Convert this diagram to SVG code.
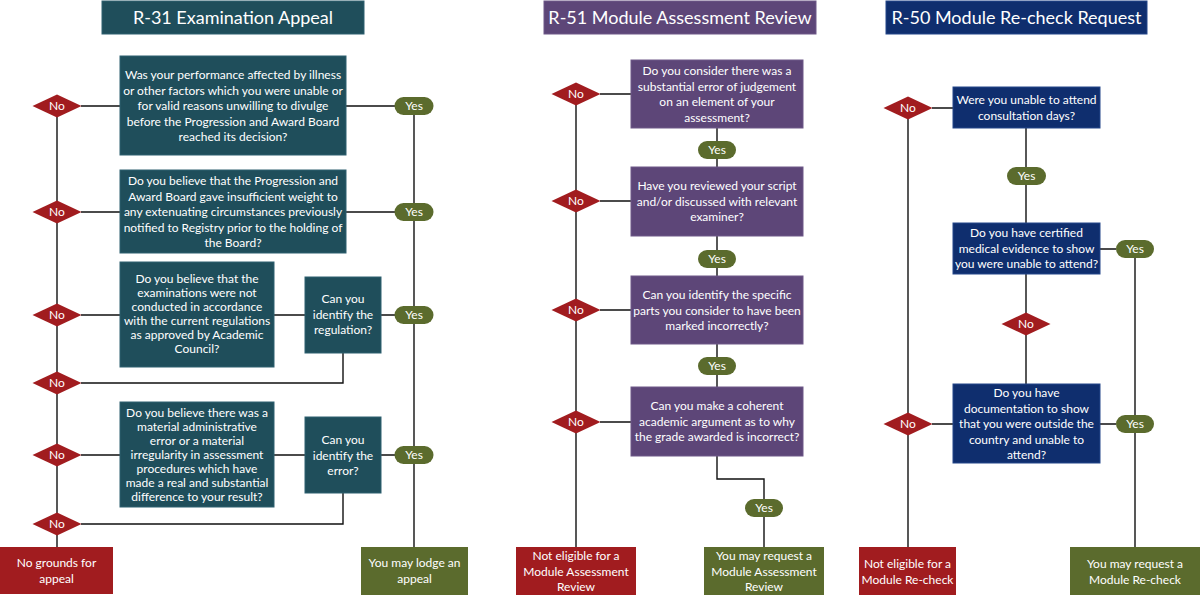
<svg xmlns="http://www.w3.org/2000/svg" width="1200" height="601" viewBox="0 0 1200 601">
<defs>
<style>
.bg{fill:#ffffff}
.teal{fill:#1f4e5b;stroke:#2f6070;stroke-width:1}
.purple{fill:#5d4678;stroke:#6e5888;stroke-width:1}
.navy{fill:#0f2e6e;stroke:#24478a;stroke-width:1}
.red{fill:#a11c1f}
.green{fill:#5b6b2d}
.edge{fill:none;stroke:#111111;stroke-width:1.4}
text{font-family:Lato,"Liberation Sans",sans-serif;fill:#ffffff;text-anchor:middle}
.t{font-size:18px}
.q{font-size:12px}
.l{font-size:12px}
</style>
</defs>
<rect class="bg" x="0" y="0" width="1200" height="601"/>

<g id="connectors">
<!-- R-31 -->
<path class="edge" d="M57,106 V547"/>
<path class="edge" d="M414,106 V547"/>
<path class="edge" d="M81,106 H120 M346,106 H395"/>
<path class="edge" d="M81,212 H120 M346,212 H395"/>
<path class="edge" d="M81,315 H120 M274,315 H305 M381,315 H395"/>
<path class="edge" d="M81,383 H343 V353"/>
<path class="edge" d="M81,455 H120 M274,455 H305 M381,455 H395"/>
<path class="edge" d="M81,524 H343 V493"/>
<!-- R-51 -->
<path class="edge" d="M576,94 V547"/>
<path class="edge" d="M600,94 H631 M600,201 H631 M600,310 H631 M600,422 H631"/>
<path class="edge" d="M717,128 V167 M717,236 V276 M717,344 V387"/>
<path class="edge" d="M717,456 V479 H764 V547"/>
<!-- R-50 -->
<path class="edge" d="M908,108 V547"/>
<path class="edge" d="M932,108 H953 M932,424 H953"/>
<path class="edge" d="M1026,128 V223 M1026,274 V384"/>
<path class="edge" d="M1100,249 H1116 M1100,424 H1116"/>
<path class="edge" d="M1135,249 V547"/>
</g>

<!-- ===== R-31 ===== -->
<g id="title-r31"><rect class="teal" x="102" y="1" width="262" height="33"/><text class="t" x="233" y="24">R-31 Examination Appeal</text></g>

<g id="r31-q1"><rect class="teal" x="120" y="56" width="226" height="99"/>
<text class="q" x="233"><tspan x="233" y="79">Was your performance affected by illness</tspan><tspan x="233" y="94.5">or other factors which you were unable or</tspan><tspan x="233" y="110">for valid reasons unwilling to divulge</tspan><tspan x="233" y="125.5">before the Progression and Award Board</tspan><tspan x="233" y="141">reached its decision?</tspan></text></g>

<g id="r31-q2"><rect class="teal" x="120" y="170" width="226" height="83"/>
<text class="q" x="233"><tspan x="233" y="185">Do you believe that the Progression and</tspan><tspan x="233" y="200.5">Award Board gave insufficient weight to</tspan><tspan x="233" y="216">any extenuating circumstances previously</tspan><tspan x="233" y="231.5">notified to Registry prior to the holding of</tspan><tspan x="233" y="247">the Board?</tspan></text></g>

<g id="r31-q3"><rect class="teal" x="120" y="262" width="154" height="105"/>
<text class="q" x="197"><tspan x="197" y="283">Do you believe that the</tspan><tspan x="197" y="297">examinations were not</tspan><tspan x="197" y="311">conducted in accordance</tspan><tspan x="197" y="325">with the current regulations</tspan><tspan x="197" y="339">as approved by Academic</tspan><tspan x="197" y="353">Council?</tspan></text></g>

<g id="r31-reg"><rect class="teal" x="305" y="277" width="76" height="76"/>
<text class="q" x="343"><tspan x="343" y="303">Can you</tspan><tspan x="343" y="318.5">identify the</tspan><tspan x="343" y="334">regulation?</tspan></text></g>

<g id="r31-q4"><rect class="teal" x="120" y="402" width="154" height="105"/>
<text class="q" x="197"><tspan x="197" y="417">Do you believe there was a</tspan><tspan x="197" y="431">material administrative</tspan><tspan x="197" y="445">error or a material</tspan><tspan x="197" y="459">irregularity in assessment</tspan><tspan x="197" y="473">procedures which have</tspan><tspan x="197" y="487">made a real and substantial</tspan><tspan x="197" y="501">difference to your result?</tspan></text></g>

<g id="r31-err"><rect class="teal" x="305" y="417" width="76" height="76"/>
<text class="q" x="343"><tspan x="343" y="444">Can you</tspan><tspan x="343" y="459.5">identify the</tspan><tspan x="343" y="475">error?</tspan></text></g>

<g id="r31-no1"><path class="red" d="M32.5,106 L57,94.5 L81.5,106 L57,117.5 Z"/><text class="l" x="57" y="110.2">No</text></g>
<g id="r31-no2"><path class="red" d="M32.5,212 L57,200.5 L81.5,212 L57,223.5 Z"/><text class="l" x="57" y="216.2">No</text></g>
<g id="r31-no3"><path class="red" d="M32.5,315 L57,303.5 L81.5,315 L57,326.5 Z"/><text class="l" x="57" y="319.2">No</text></g>
<g id="r31-no4"><path class="red" d="M32.5,383 L57,371.5 L81.5,383 L57,394.5 Z"/><text class="l" x="57" y="387.2">No</text></g>
<g id="r31-no5"><path class="red" d="M32.5,455 L57,443.5 L81.5,455 L57,466.5 Z"/><text class="l" x="57" y="459.2">No</text></g>
<g id="r31-no6"><path class="red" d="M32.5,524 L57,512.5 L81.5,524 L57,535.5 Z"/><text class="l" x="57" y="528.2">No</text></g>

<g id="r31-yes1"><rect class="green" x="394.5" y="97" width="39" height="18" rx="9"/><text class="l" x="414" y="110.2">Yes</text></g>
<g id="r31-yes2"><rect class="green" x="394.5" y="203" width="39" height="18" rx="9"/><text class="l" x="414" y="216.2">Yes</text></g>
<g id="r31-yes3"><rect class="green" x="394.5" y="306" width="39" height="18" rx="9"/><text class="l" x="414" y="319.2">Yes</text></g>
<g id="r31-yes4"><rect class="green" x="394.5" y="446" width="39" height="18" rx="9"/><text class="l" x="414" y="459.2">Yes</text></g>

<g id="r31-nogrounds"><rect class="red" x="0" y="547" width="113" height="47"/>
<text class="q" x="56.5"><tspan x="56.5" y="567">No grounds for</tspan><tspan x="56.5" y="583">appeal</tspan></text></g>
<g id="r31-lodge"><rect class="green" x="361" y="547" width="107" height="48"/>
<text class="q" x="414.5"><tspan x="414.5" y="567">You may lodge an</tspan><tspan x="414.5" y="583">appeal</tspan></text></g>

<!-- ===== R-51 ===== -->
<g id="title-r51"><rect class="purple" x="544" y="1" width="272" height="33"/><text class="t" x="680" y="24">R-51 Module Assessment Review</text></g>

<g id="r51-q1"><rect class="purple" x="631" y="60" width="172" height="68"/>
<text class="q" x="717"><tspan x="717" y="75">Do you consider there was a</tspan><tspan x="717" y="90.5">substantial error of judgement</tspan><tspan x="717" y="106">on an element of your</tspan><tspan x="717" y="121.5">assessment?</tspan></text></g>
<g id="r51-q2"><rect class="purple" x="631" y="167" width="172" height="69"/>
<text class="q" x="717"><tspan x="717" y="190">Have you reviewed your script</tspan><tspan x="717" y="205.5">and/or discussed with relevant</tspan><tspan x="717" y="221">examiner?</tspan></text></g>
<g id="r51-q3"><rect class="purple" x="631" y="276" width="172" height="68"/>
<text class="q" x="717"><tspan x="717" y="299">Can you identify the specific</tspan><tspan x="717" y="314.5">parts you consider to have been</tspan><tspan x="717" y="330">marked incorrectly?</tspan></text></g>
<g id="r51-q4"><rect class="purple" x="631" y="387" width="172" height="69"/>
<text class="q" x="717"><tspan x="717" y="410">Can you make a coherent</tspan><tspan x="717" y="425.5">academic argument as to why</tspan><tspan x="717" y="441">the grade awarded is incorrect?</tspan></text></g>

<g id="r51-no1"><path class="red" d="M551.5,94 L576,82.5 L600.5,94 L576,105.5 Z"/><text class="l" x="576" y="98.2">No</text></g>
<g id="r51-no2"><path class="red" d="M551.5,201 L576,189.5 L600.5,201 L576,212.5 Z"/><text class="l" x="576" y="205.2">No</text></g>
<g id="r51-no3"><path class="red" d="M551.5,310 L576,298.5 L600.5,310 L576,321.5 Z"/><text class="l" x="576" y="314.2">No</text></g>
<g id="r51-no4"><path class="red" d="M551.5,422 L576,410.5 L600.5,422 L576,433.5 Z"/><text class="l" x="576" y="426.2">No</text></g>

<g id="r51-yes1"><rect class="green" x="698" y="141" width="38" height="18" rx="9"/><text class="l" x="717" y="154.2">Yes</text></g>
<g id="r51-yes2"><rect class="green" x="698" y="250" width="38" height="18" rx="9"/><text class="l" x="717" y="263.2">Yes</text></g>
<g id="r51-yes3"><rect class="green" x="698" y="357" width="38" height="18" rx="9"/><text class="l" x="717" y="370.2">Yes</text></g>
<g id="r51-yes4"><rect class="green" x="745" y="499" width="38" height="18" rx="9"/><text class="l" x="764" y="512.2">Yes</text></g>

<g id="r51-noteligible"><rect class="red" x="516" y="547" width="120" height="48"/>
<text class="q" x="576"><tspan x="576" y="560">Not eligible for a</tspan><tspan x="576" y="575.5">Module Assessment</tspan><tspan x="576" y="591">Review</tspan></text></g>
<g id="r51-request"><rect class="green" x="704" y="547" width="120" height="48"/>
<text class="q" x="764"><tspan x="764" y="560">You may request a</tspan><tspan x="764" y="575.5">Module Assessment</tspan><tspan x="764" y="591">Review</tspan></text></g>

<!-- ===== R-50 ===== -->
<g id="title-r50"><rect class="navy" x="886" y="1" width="261" height="33"/><text class="t" x="1016.5" y="24">R-50 Module Re-check Request</text></g>

<g id="r50-q1"><rect class="navy" x="953" y="87" width="147" height="41"/>
<text class="q" x="1026.5"><tspan x="1026.5" y="104">Were you unable to attend</tspan><tspan x="1026.5" y="119.5">consultation days?</tspan></text></g>
<g id="r50-q2"><rect class="navy" x="953" y="223" width="147" height="51"/>
<text class="q" x="1026.5"><tspan x="1026.5" y="237">Do you have certified</tspan><tspan x="1026.5" y="252.5">medical evidence to show</tspan><tspan x="1026.5" y="268">you were unable to attend?</tspan></text></g>
<g id="r50-q3"><rect class="navy" x="953" y="384" width="147" height="79"/>
<text class="q" x="1026.5"><tspan x="1026.5" y="397">Do you have</tspan><tspan x="1026.5" y="412.5">documentation to show</tspan><tspan x="1026.5" y="428">that you were outside the</tspan><tspan x="1026.5" y="443.5">country and unable to</tspan><tspan x="1026.5" y="459">attend?</tspan></text></g>

<g id="r50-no1"><path class="red" d="M883.5,108 L908,96.5 L932.5,108 L908,119.5 Z"/><text class="l" x="908" y="112.2">No</text></g>
<g id="r50-no2"><path class="red" d="M1001.5,324 L1026,312.5 L1050.5,324 L1026,335.5 Z"/><text class="l" x="1026" y="328.2">No</text></g>
<g id="r50-no3"><path class="red" d="M883.5,424 L908,412.5 L932.5,424 L908,435.5 Z"/><text class="l" x="908" y="428.2">No</text></g>

<g id="r50-yes1"><rect class="green" x="1007" y="167" width="39" height="18" rx="9"/><text class="l" x="1026.5" y="180.2">Yes</text></g>
<g id="r50-yes2"><rect class="green" x="1116" y="240" width="38" height="18" rx="9"/><text class="l" x="1135" y="253.2">Yes</text></g>
<g id="r50-yes3"><rect class="green" x="1116" y="415" width="38" height="18" rx="9"/><text class="l" x="1135" y="428.2">Yes</text></g>

<g id="r50-noteligible"><rect class="red" x="859" y="547" width="97" height="48"/>
<text class="q" x="907.5"><tspan x="907.5" y="568">Not eligible for a</tspan><tspan x="907.5" y="584">Module Re-check</tspan></text></g>
<g id="r50-request"><rect class="green" x="1070" y="547" width="130" height="48"/>
<text class="q" x="1135"><tspan x="1135" y="568">You may request a</tspan><tspan x="1135" y="584">Module Re-check</tspan></text></g>
</svg>
